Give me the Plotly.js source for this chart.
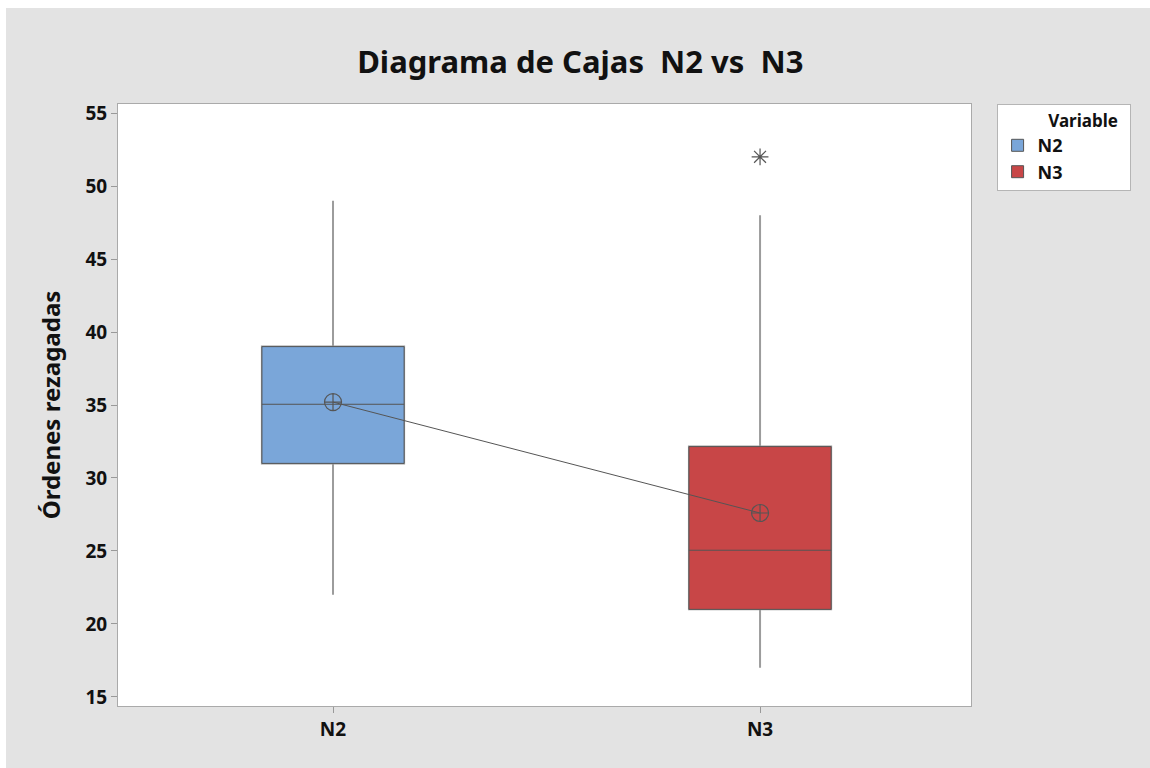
<!DOCTYPE html>
<html>
<head>
<meta charset="utf-8">
<script src="https://cdn.plot.ly/plotly-3.0.1.min.js"></script>
<style>
  html, body { margin: 0; padding: 0; background: #ffffff; }
  #chart { position: absolute; left: 6px; top: 8px; width: 1144px; height: 760px; }
</style>
</head>
<body>
<div id="chart"></div>
<script>
// ---- Data ----
const categories = ['N2', 'N3'];
const q1Values = [31, 21];
const medianValues = [35.05, 25.05];
const q3Values = [39, 32.15];
const lowerWhiskers = [22, 17];
const upperWhiskers = [49, 48];
const meanValues = [35.2, 27.6];
const outlierCategories = ['N3'];
const outlierValues = [52];
const yTickValues = [15, 20, 25, 30, 35, 40, 45, 50, 55];
const boxColors = ['#7aa6d9', '#c84647'];

const FONT = 'Noto Sans, Open Sans, DejaVu Sans, sans-serif';
const traces = [];

// whiskers (light gray)
categories.forEach((cat, i) => {
  traces.push({
    type: 'box',
    name: cat,
    x: [cat],
    q1: [q1Values[i]],
    median: [medianValues[i]],
    q3: [q3Values[i]],
    lowerfence: [lowerWhiskers[i]],
    upperfence: [upperWhiskers[i]],
    width: 0.333,
    whiskerwidth: 0,
    line: { color: '#9c9c9c', width: 2 },
    fillcolor: boxColors[i],
    showlegend: false,
    hoverinfo: 'skip'
  });
});
// boxes with dark outline
categories.forEach((cat, i) => {
  traces.push({
    type: 'box',
    name: cat,
    x: [cat],
    q1: [q1Values[i]],
    median: [medianValues[i]],
    q3: [q3Values[i]],
    lowerfence: [q1Values[i]],
    upperfence: [q3Values[i]],
    width: 0.333,
    whiskerwidth: 0,
    line: { color: '#555555', width: 1 },
    fillcolor: boxColors[i],
    showlegend: true,
    hoverinfo: 'skip'
  });
});
// mean connect line + symbols
traces.push({
  type: 'scatter',
  mode: 'lines+markers',
  x: categories,
  y: meanValues,
  line: { color: '#555555', width: 1 },
  marker: { symbol: 'circle-cross-open', size: 17, color: '#555555', line: { width: 1.2, color: '#555555' } },
  showlegend: false,
  hoverinfo: 'skip'
});
// outlier
traces.push({
  type: 'scatter',
  mode: 'markers',
  x: outlierCategories,
  y: outlierValues,
  marker: { symbol: 'asterisk-open', size: 14, color: '#555555', line: { width: 1.2, color: '#555555' } },
  showlegend: false,
  hoverinfo: 'skip'
});

const layout = {
  width: 1144,
  height: 760,
  paper_bgcolor: '#e3e3e3',
  plot_bgcolor: '#ffffff',
  margin: { l: 112, r: 179, t: 96, b: 62 },
  boxmode: 'overlay',
  font: { family: FONT, color: '#111111' },
  title: {
    text: 'Diagrama de Cajas\u00a0 N2 vs\u00a0 N3',
    font: { family: FONT, size: 31, color: '#111111', weight: 'bold' },
    x: 0.502, xref: 'container', xanchor: 'center',
    y: 0.929, yref: 'container', yanchor: 'middle'
  },
  xaxis: {
    type: 'category',
    categoryorder: 'array',
    categoryarray: categories,
    range: [-0.5035, 1.494],
    showline: true, linecolor: '#aaaaaa', linewidth: 1, mirror: true,
    showgrid: false, zeroline: false,
    ticks: 'outside', ticklen: 6, tickcolor: '#999999',
    tickfont: { family: FONT, size: 19, color: '#111111', weight: 'bold' }
  },
  yaxis: {
    range: [14.38, 55.62],
    tickvals: yTickValues,
    showline: true, linecolor: '#aaaaaa', linewidth: 1, mirror: true,
    showgrid: false, zeroline: false,
    ticks: 'outside', ticklen: 6, tickcolor: '#999999',
    tickfont: { family: FONT, size: 19, color: '#111111', weight: 'bold' },
    title: {
      text: 'Órdenes rezagadas',
      font: { family: FONT, size: 24, color: '#111111', weight: 'bold' },
      standoff: 18
    }
  },
  legend: {
    x: 1.03, xanchor: 'left',
    y: 1, yanchor: 'top',
    bgcolor: '#ffffff', bordercolor: '#b5b5b5', borderwidth: 1,
    font: { family: FONT, size: 18, color: '#111111', weight: 'bold' },
    title: { text: '           Variable  ', font: { family: FONT, size: 17, color: '#111111', weight: 'bold' } },
    traceorder: 'normal',
    itemwidth: 30,
    entrywidth: 100
  }
};

Plotly.newPlot('chart', traces, layout, { displayModeBar: false });
</script>
</body>
</html>
